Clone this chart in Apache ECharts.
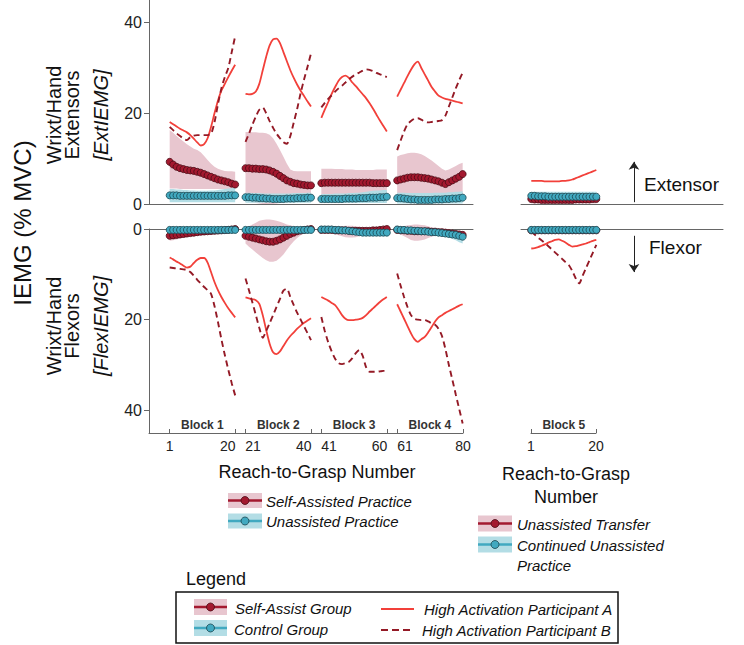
<!DOCTYPE html>
<html>
<head>
<meta charset="utf-8">
<script src="https://cdn.jsdelivr.net/npm/echarts@6/dist/echarts.min.js"></script>
<style>html,body{margin:0;padding:0;background:#fff}#c{width:744px;height:645px}</style>
</head>
<body>
<div id="c"></div>
<script>
// ---------- data ----------
const blockNames = ['Block 1', 'Block 2', 'Block 3', 'Block 4'];
const block5Name = 'Block 5';
const mainTickLabels = ['1', '20', '21', '40', '41', '60', '61', '80'];
const blockEndLabels = ['20', '40', '60'];
const blockStartLabels = ['21', '41', '61'];
const b5TickLabels = ['1', '20'];
const yTicks = [0, 20, 40];

// Extensor (top) – trials 1..80
const extSelfMean = [9.3,8.7,8.2,7.9,7.7,7.5,7.4,7.3,7.1,6.9,6.6,6.3,6.0,5.7,5.4,5.2,5.0,4.8,4.5,4.3,
  7.9,7.9,7.8,7.8,7.7,7.7,7.6,7.4,7.1,6.7,6.2,5.7,5.2,4.9,4.6,4.5,4.3,4.2,4.1,4.1,
  4.6,4.7,4.7,4.7,4.7,4.7,4.7,4.7,4.7,4.7,4.7,4.7,4.7,4.7,4.7,4.6,4.6,4.6,4.6,4.6,
  5.2,5.4,5.6,5.8,5.9,5.9,5.9,5.8,5.7,5.6,5.4,5.2,5.0,4.7,4.4,4.8,5.2,5.6,6.0,6.6];
const extSelfHi = [16.3,15.7,15.0,14.4,13.8,13.2,12.7,12.2,11.9,11.4,10.6,9.7,8.9,8.2,7.8,7.5,7.3,7.2,7.2,7.1,
  15.9,15.9,15.8,15.8,15.7,15.7,15.6,15.3,14.5,13.3,11.9,10.4,8.9,7.6,7.3,7.2,7.2,7.2,7.2,7.2,
  7.8,7.8,7.8,7.8,7.7,7.7,7.7,7.6,7.6,7.6,7.5,7.5,7.5,7.5,7.5,7.5,7.6,7.6,7.6,7.6,
  10.5,10.8,11.0,11.2,11.3,11.3,11.2,11.0,10.6,10.1,9.6,9.0,8.4,7.8,7.4,7.6,8.0,8.4,8.8,9.1];
const extSelfLo = [3.4,3.4,3.4,3.3,3.3,3.3,3.3,3.3,3.3,3.3,3.3,3.3,3.3,3.3,3.3,3.3,3.3,3.3,3.3,3.3,
  0.8,0.6,0.4,0.2,0.1,0,0,0,0,0.1,0.2,0.4,0.5,0.6,0.7,0.7,0.7,0.7,0.7,0.7,
  0.5,0.5,0.5,0.5,0.5,0.5,0.5,0.5,0.5,0.5,0.5,0.5,0.5,0.5,0.5,0.5,0.5,0.5,0.5,0.5,
  1.5,1.5,1.5,1.5,1.5,1.5,1.5,1.5,1.5,1.5,1.5,1.5,1.5,1.5,1.5,1.5,1.5,1.5,1.5,1.5];
const extCtrlMean = [1.9,1.9,1.9,1.8,1.8,1.8,1.8,1.8,1.8,1.8,1.8,1.8,1.8,1.8,1.8,1.8,1.8,1.9,1.9,1.9,
  1.5,1.5,1.4,1.4,1.3,1.3,1.2,1.2,1.1,1.1,1.1,1.1,1.2,1.2,1.2,1.3,1.3,1.3,1.4,1.4,
  1.1,1.1,1.1,1.1,1.1,1.1,1.1,1.2,1.2,1.2,1.2,1.3,1.3,1.3,1.4,1.4,1.4,1.5,1.5,1.6,
  1.3,1.3,1.2,1.1,1.0,1.0,0.9,0.9,0.9,0.9,0.9,1.0,1.0,1.0,1.1,1.1,1.2,1.2,1.3,1.4];
const extCtrlHi = [3.3,3.3,3.2,3.2,3.1,3.1,3.0,3.0,2.9,2.9,2.9,2.9,3.0,3.0,3.1,3.2,3.3,3.4,3.5,3.6,
  2.5,2.5,2.4,2.4,2.4,2.3,2.3,2.3,2.3,2.3,2.3,2.3,2.3,2.3,2.4,2.4,2.4,2.4,2.5,2.5,
  2.2,2.2,2.2,2.2,2.3,2.3,2.3,2.3,2.4,2.4,2.5,2.5,2.6,2.7,2.8,2.9,3.0,3.0,3.1,3.1,
  2.5,2.5,2.5,2.4,2.4,2.4,2.4,2.4,2.4,2.4,2.4,2.5,2.5,2.5,2.5,2.6,2.6,2.7,2.7,2.8];
const extCtrlLo = [0.4,0.4,0.4,0.4,0.4,0.4,0.4,0.4,0.4,0.4,0.4,0.4,0.4,0.4,0.4,0.4,0.4,0.4,0.4,0.4,
  0.3,0.3,0.3,0.3,0.3,0.3,0.3,0.3,0.3,0.3,0.3,0.3,0.3,0.3,0.3,0.3,0.3,0.3,0.3,0.3,
  0.2,0.2,0.2,0.2,0.2,0.2,0.2,0.2,0.2,0.2,0.2,0.2,0.2,0.2,0.2,0.2,0.2,0.2,0.2,0.2,
  0.1,0.1,0.1,0.1,0.1,0.1,0.1,0.1,0.1,0.1,0.1,0.1,0.1,0.1,0.1,0.1,0.1,0.1,0.1,0.1];
const extPartA = [18.1,17.6,17.1,16.6,16.2,15.8,15.2,14.4,13.6,12.9,13.2,14.5,17.0,20.0,22.8,25.0,26.5,28.0,29.4,30.7,
  24.3,24.2,24.3,24.8,26.5,29.5,32.5,35.0,36.3,36.5,35.5,33.5,31.5,29.5,27.8,26.3,25.0,23.8,22.6,21.5,
  19.0,20.8,22.5,24.3,25.8,27.2,28.0,28.3,27.8,26.8,26.0,25.1,24.2,23.3,22.2,21.0,19.7,18.4,17.2,16.0,
  23.7,25.2,26.7,28.2,29.6,30.8,31.4,30.0,28.6,27.2,25.8,24.8,23.9,23.5,23.2,23.0,22.8,22.6,22.4,22.2];
const extPartB = [17.0,16.3,15.6,15.0,14.4,14.1,14.8,15.1,15.2,15.2,15.2,15.2,15.5,18.0,22.0,25.5,28.0,30.0,33.5,37.0,
  13.7,15.5,17.5,19.3,20.8,21.3,20.0,18.3,16.8,15.5,14.5,13.6,13.3,15.0,18.0,21.0,24.5,27.5,30.3,33.2,
  21.3,22.3,23.2,24.0,24.8,25.5,26.1,26.8,27.5,28.1,28.6,29.0,29.4,29.7,29.6,29.3,28.9,28.6,28.3,28.0,
  11.9,14.0,16.0,17.6,18.3,18.8,18.9,18.6,18.2,18.0,18.1,18.2,18.3,18.5,19.5,21.5,23.5,25.5,27.3,29.0];

// Flexor (bottom) – trials 1..80
const flexSelfMean = [1.5,1.4,1.3,1.2,1.1,1.0,0.9,0.8,0.7,0.6,0.55,0.5,0.45,0.4,0.35,0.3,0.25,0.2,0.1,0,
  1.5,1.7,1.9,2.1,2.3,2.5,2.7,2.8,2.8,2.6,2.3,1.9,1.5,1.1,0.8,0.5,0.35,0.2,0.1,0,
  0.2,0.2,0.2,0.2,0.3,0.3,0.3,0.3,0.4,0.4,0.4,0.4,0.4,0.4,0.4,0.3,0.3,0.2,0.1,0,
  0.2,0.3,0.3,0.4,0.4,0.5,0.5,0.5,0.5,0.5,0.6,0.6,0.7,0.7,0.8,0.9,1.0,1.1,1.2,1.3];
const flexSelfHi = [2.6,2.5,2.3,2.1,1.9,1.8,1.6,1.5,1.4,1.3,1.2,1.1,1.0,0.9,0.8,0.7,0.6,0.5,0.4,0.3,
  3.2,3.9,4.5,5.2,5.8,6.4,6.9,7.2,7.2,7.0,6.4,5.6,4.6,3.6,2.7,2.0,1.4,1.0,0.7,0.5,
  0.6,0.7,0.8,1.0,1.2,1.4,1.6,1.8,1.9,1.9,1.8,1.6,1.4,1.2,1.0,0.9,0.8,0.7,0.6,0.5,
  0.8,1.2,1.6,2.0,2.4,2.6,2.6,2.5,2.3,2.0,1.7,1.5,1.4,1.4,1.5,1.6,1.7,1.8,1.9,2.0];
const flexSelfLo = [0.4,0.3,0.3,0.2,0.2,0.2,0.1,0.1,0.1,0,0,0,0,0,0,-0.1,-0.1,-0.1,-0.2,-0.2,
  -0.3,-0.6,-1.0,-1.4,-1.8,-2.0,-2.1,-2.1,-2.0,-1.8,-1.6,-1.3,-1.0,-0.8,-0.6,-0.4,-0.3,-0.2,-0.1,0,
  -0.2,-0.3,-0.3,-0.4,-0.5,-0.6,-0.6,-0.7,-0.7,-0.7,-0.6,-0.5,-0.4,-0.3,-0.3,-0.2,-0.2,-0.2,-0.2,-0.2,
  -0.2,-0.4,-0.6,-0.8,-0.9,-1.0,-1.0,-0.9,-0.8,-0.6,-0.4,-0.3,-0.2,-0.1,0,0.1,0.2,0.3,0.4,0.5];
const flexCtrlMean = [0.2,0.2,0.2,0.2,0.2,0.2,0.2,0.2,0.2,0.2,0.2,0.2,0.2,0.2,0.2,0.2,0.2,0.2,0.2,0.2,
  0.2,0.2,0.2,0.2,0.2,0.2,0.2,0.2,0.2,0.2,0.2,0.2,0.2,0.2,0.2,0.2,0.2,0.2,0.2,0.2,
  0.1,0.1,0.1,0.1,0.2,0.2,0.3,0.3,0.4,0.5,0.6,0.7,0.8,0.8,0.8,0.8,0.8,0.8,0.8,0.8,
  0.1,0.2,0.2,0.3,0.3,0.4,0.4,0.5,0.5,0.6,0.7,0.7,0.8,0.9,1.0,1.1,1.2,1.3,1.5,1.7];
const flexCtrlHi = [0.6,0.6,0.6,0.6,0.6,0.6,0.6,0.6,0.6,0.6,0.6,0.6,0.6,0.6,0.6,0.6,0.6,0.6,0.6,0.6,
  0.6,0.6,0.6,0.6,0.6,0.6,0.6,0.6,0.6,0.6,0.6,0.6,0.6,0.6,0.6,0.6,0.6,0.6,0.6,0.6,
  0.5,0.5,0.5,0.5,0.6,0.6,0.7,0.7,0.8,0.9,1.0,1.1,1.2,1.2,1.2,1.2,1.2,1.3,1.3,1.3,
  0.5,0.6,0.6,0.7,0.7,0.8,0.8,0.9,0.9,1.0,1.1,1.2,1.3,1.4,1.6,1.9,2.2,2.5,2.9,3.2];
const flexCtrlLo = [-0.2,-0.2,-0.2,-0.2,-0.2,-0.2,-0.2,-0.2,-0.2,-0.2,-0.2,-0.2,-0.2,-0.2,-0.2,-0.2,-0.2,-0.2,-0.2,-0.2,
  -0.2,-0.2,-0.2,-0.2,-0.2,-0.2,-0.2,-0.2,-0.2,-0.2,-0.2,-0.2,-0.2,-0.2,-0.2,-0.2,-0.2,-0.2,-0.2,-0.2,
  -0.2,-0.2,-0.2,-0.2,-0.2,-0.2,-0.1,-0.1,0,0.1,0.2,0.3,0.3,0.3,0.3,0.3,0.3,0.3,0.3,0.3,
  -0.2,-0.2,-0.2,-0.1,-0.1,0,0,0.1,0.1,0.2,0.3,0.3,0.3,0.4,0.4,0.4,0.4,0.5,0.5,0.5];
const flexPartA = [6.3,6.7,7.2,7.6,8.1,8.5,8.3,7.5,6.8,6.4,6.4,7.4,9.5,11.7,13.5,15.0,16.3,17.5,18.5,19.5,
  15.1,15.3,15.5,15.7,16.5,19.0,22.3,25.3,27.2,27.6,27.0,25.8,24.6,23.6,22.8,22.0,21.3,20.7,20.2,19.7,
  15.0,15.4,15.8,16.3,16.8,17.8,19.0,19.8,20.1,20.1,20.0,19.9,19.6,19.0,18.2,17.5,16.8,16.1,15.5,15.0,
  16.6,18.2,19.8,21.4,23.0,24.3,24.9,24.3,23.8,22.8,21.6,20.4,19.5,19.0,18.5,18.1,17.7,17.3,16.9,16.6];
const flexPartB = [8.5,8.6,8.7,8.8,8.9,9.0,9.5,10.3,11.2,12.0,12.8,13.5,14.3,17.0,20.5,24.3,27.8,31.0,34.0,36.7,
  10.9,13.5,16.2,19.0,21.8,24.0,22.5,20.8,19.0,17.2,15.4,13.6,13.2,15.0,16.8,18.5,20.0,21.5,23.0,24.5,
  19.4,22.5,25.0,27.0,28.6,29.6,29.8,29.6,29.3,28.5,27.4,26.7,28.0,30.5,31.5,31.5,31.5,31.4,31.3,31.3,
  9.8,12.5,15.0,17.2,19.0,19.8,20.0,20.1,20.1,20.4,20.8,21.1,22.0,23.6,26.5,30.0,33.2,36.5,39.7,42.9];

// Block 5 – trials 1..20
const b5ExtSelfMean = [1.1,1.0,1.0,0.9,0.9,0.9,0.9,0.9,0.9,0.9,0.9,0.9,0.9,1.0,1.0,1.0,1.0,1.0,1.1,1.1];
const b5ExtSelfHi = [2.0,2.0,2.0,2.0,2.0,2.0,2.0,2.0,2.0,2.0,2.0,2.0,2.0,2.0,2.0,2.0,2.0,2.0,2.0,2.0];
const b5ExtSelfLo = [0.1,0.1,0.1,0.1,0.1,0.1,0.1,0.1,0.1,0.1,0.1,0.1,0.1,0.1,0.1,0.1,0.1,0.1,0.1,0.1];
const b5ExtCtrlMean = [1.8,1.8,1.7,1.7,1.7,1.6,1.6,1.6,1.6,1.6,1.6,1.6,1.6,1.6,1.6,1.6,1.6,1.6,1.6,1.6];
const b5ExtCtrlHi = [2.7,2.7,2.7,2.7,2.7,2.7,2.7,2.7,2.7,2.7,2.7,2.7,2.7,2.7,2.7,2.7,2.7,2.7,2.7,2.7];
const b5ExtCtrlLo = [0.6,0.6,0.6,0.6,0.6,0.6,0.6,0.6,0.6,0.6,0.6,0.6,0.6,0.6,0.6,0.6,0.6,0.6,0.6,0.6];
const b5ExtPartA = [5.1,5.1,5.1,5.1,5.0,5.0,5.0,5.0,5.0,5.1,5.1,5.2,5.4,5.7,6.0,6.3,6.6,6.9,7.2,7.5];
const b5ExtPartB = [1.4,1.3,1.3,1.2,1.2,1.2,1.2,1.2,1.2,1.3,1.3,1.3,1.4,1.4,1.5,1.5,1.6,1.6,1.7,1.8];
const b5FlexSelfMean = [0.3,0.3,0.3,0.3,0.3,0.3,0.3,0.3,0.3,0.3,0.3,0.3,0.3,0.3,0.3,0.3,0.3,0.3,0.3,0.3];
const b5FlexSelfHi = [0.8,0.8,0.8,0.8,0.8,0.8,0.8,0.8,0.8,0.8,0.8,0.8,0.8,0.8,0.8,0.8,0.8,0.8,0.8,0.8];
const b5FlexSelfLo = [-0.1,-0.1,-0.1,-0.1,-0.1,-0.1,-0.1,-0.1,-0.1,-0.1,-0.1,-0.1,-0.1,-0.1,-0.1,-0.1,-0.1,-0.1,-0.1,-0.1];
const b5FlexCtrlMean = [0.2,0.2,0.2,0.2,0.2,0.2,0.2,0.2,0.2,0.2,0.2,0.2,0.2,0.2,0.2,0.2,0.2,0.2,0.2,0.2];
const b5FlexCtrlHi = [0.6,0.6,0.6,0.6,0.6,0.6,0.6,0.6,0.6,0.6,0.6,0.6,0.6,0.6,0.6,0.6,0.6,0.6,0.6,0.6];
const b5FlexCtrlLo = [-0.1,-0.1,-0.1,-0.1,-0.1,-0.1,-0.1,-0.1,-0.1,-0.1,-0.1,-0.1,-0.1,-0.1,-0.1,-0.1,-0.1,-0.1,-0.1,-0.1];
const b5FlexPartA = [4.3,4.2,4.0,3.7,3.4,3.0,2.7,2.4,2.3,2.6,3.0,3.5,3.9,3.8,3.6,3.4,3.2,2.9,2.6,2.4];
const b5FlexPartB = [0.6,1.2,1.9,2.5,3.1,3.8,4.5,5.2,5.9,6.6,7.3,8.0,9.3,10.9,12.0,10.3,8.6,6.9,5.2,3.5];

// ---------- styling ----------
const FONT = '"Liberation Sans", Arial, Helvetica, sans-serif';
const RED = '#a3192f', RED_EDGE = '#4a0b15', RED_BAND = '#e8c6cf';
const TEAL = '#41a9c0', TEAL_EDGE = '#1b4651', TEAL_BAND = '#b3dde5';
const PART_A = '#f2403a', PART_B = '#941a26';
const AXIS = '#666';

// main category slots: 6 leading blanks, 2 blanks between blocks, 3 trailing blanks
const LEAD = 6, GAP = 2, TAIL = 3;
const cats = [];
for (let i = 0; i < LEAD; i++) cats.push('');
for (let b = 0; b < 4; b++) {
  for (let t = 1; t <= 20; t++) cats.push(String(b * 20 + t));
  if (b < 3) for (let i = 0; i < GAP; i++) cats.push('');
}
const axisCats = cats.slice();           // ends at trial 80
for (let i = 0; i < TAIL; i++) cats.push('');
const slotStart = b => LEAD + b * (20 + GAP);
function slot(arr) {
  const out = new Array(cats.length).fill(null);
  arr.forEach((v, i) => { out[slotStart(Math.floor(i / 20)) + (i % 20)] = v; });
  return out;
}
// block 5 category slots: 3 leading blanks, 20 trials, 37 trailing blanks
const B5LEAD = 3, B5TAIL = 37;
const b5Cats = Array.from({length: 20}, (_, i) => String(i + 1));
const b5AllCats = [];
for (let i = 0; i < B5LEAD; i++) b5AllCats.push('');
b5Cats.forEach(c => b5AllCats.push(c));
for (let i = 0; i < B5TAIL; i++) b5AllCats.push('');
function slot5(arr) {
  const out = new Array(b5AllCats.length).fill(null);
  arr.forEach((v, i) => { out[B5LEAD + i] = v; });
  return out;
}

function groupSeries(opt) {
  const f = opt.main ? slot : slot5;
  const diff = (h, l) => h.map((v, i) => +(v - l[i]).toFixed(2));
  const base = {type: 'line', xAxisIndex: opt.x, yAxisIndex: opt.y, connectNulls: false, silent: true};
  const band = (name, lo, hi, col) => [
    Object.assign({}, base, {stack: name, stackStrategy: 'all', data: f(lo), symbol: 'none',
      lineStyle: {opacity: 0}, clip: opt.clip}),
    Object.assign({}, base, {stack: name, stackStrategy: 'all', data: f(diff(hi, lo)), symbol: 'none',
      lineStyle: {opacity: 0}, areaStyle: {color: col, opacity: 1}, clip: opt.clip})
  ];
  const out = [];
  out.push(...band(opt.key + 'rb', opt.selfL, opt.selfH, RED_BAND));
  out.push(...band(opt.key + 'tb', opt.ctrlL, opt.ctrlH, TEAL_BAND));
  out.push(Object.assign({}, base, {data: f(opt.pa), symbol: 'none', smooth: 0.25,
    lineStyle: {color: PART_A, width: 1.8}}));
  out.push(Object.assign({}, base, {data: f(opt.pb), symbol: 'none', smooth: 0.25,
    lineStyle: {color: PART_B, width: 1.9, type: [6, 4]}}));
  out.push(Object.assign({}, base, {data: f(opt.selfM), symbol: 'circle', symbolSize: 7, showAllSymbol: true,
    lineStyle: {color: RED, width: 1.5}, itemStyle: {color: RED, borderColor: RED_EDGE, borderWidth: 0.8}}));
  out.push(Object.assign({}, base, {data: f(opt.ctrlM), symbol: 'circle', symbolSize: 7, showAllSymbol: true,
    lineStyle: {color: TEAL, width: 1.5}, itemStyle: {color: TEAL, borderColor: TEAL_EDGE, borderWidth: 0.8}}));
  return out;
}

const series = [];
series.push(...groupSeries({x: 0, y: 0, main: true, key: 'me', clip: true,
  selfM: extSelfMean, selfH: extSelfHi, selfL: extSelfLo, ctrlM: extCtrlMean, ctrlH: extCtrlHi, ctrlL: extCtrlLo,
  pa: extPartA, pb: extPartB}));
series.push(...groupSeries({x: 1, y: 1, main: true, key: 'mf', clip: false,
  selfM: flexSelfMean, selfH: flexSelfHi, selfL: flexSelfLo, ctrlM: flexCtrlMean, ctrlH: flexCtrlHi, ctrlL: flexCtrlLo,
  pa: flexPartA, pb: flexPartB}));
series.push(...groupSeries({x: 2, y: 2, main: false, key: 'be', clip: true,
  selfM: b5ExtSelfMean, selfH: b5ExtSelfHi, selfL: b5ExtSelfLo, ctrlM: b5ExtCtrlMean, ctrlH: b5ExtCtrlHi, ctrlL: b5ExtCtrlLo,
  pa: b5ExtPartA, pb: b5ExtPartB}));
series.push(...groupSeries({x: 3, y: 3, main: false, key: 'bf', clip: false,
  selfM: b5FlexSelfMean, selfH: b5FlexSelfHi, selfL: b5FlexSelfLo, ctrlM: b5FlexCtrlMean, ctrlH: b5FlexCtrlHi, ctrlL: b5FlexCtrlLo,
  pa: b5FlexPartA, pb: b5FlexPartB}));

// block labels (markArea) and arrows (markLine)
const blockLabel = {show: true, position: 'inside', color: '#333', fontWeight: 'bold', fontSize: 12, fontFamily: FONT};
series[15].markArea = {silent: true, itemStyle: {color: 'rgba(0,0,0,0)'}, label: blockLabel,
  data: blockNames.map((n, b) => [{name: n, coord: [slotStart(b), 41.6]}, {coord: [slotStart(b) + 19, 45]}])};
series[31].markArea = {silent: true, itemStyle: {color: 'rgba(0,0,0,0)'}, label: blockLabel,
  data: [[{name: block5Name, coord: [B5LEAD, 41.6]}, {coord: [B5LEAD + 19, 45]}]]};
const ARROW_SLOT = 33;
const arrowML = (a, b) => ({silent: true, symbol: ['none', 'arrow'], symbolSize: 8, label: {show: false},
  lineStyle: {color: '#222', width: 1, type: 'solid'}, data: [[{coord: [ARROW_SLOT, a]}, {coord: [ARROW_SLOT, b]}]]});
series[20].markLine = arrowML(0.4, 9.3);
series[28].markLine = arrowML(1.5, 9.5);

const hiddenAxisParts = {axisTick: {show: false}, axisLabel: {show: false}, splitLine: {show: false}};
const lineStyleAxis = {show: true, onZero: false, lineStyle: {color: AXIS, width: 1}};
const catTickFn = (labels) => (i, v) => labels.includes(v);
const tickFmt = v => blockEndLabels.includes(v) ? '{r|' + v + '}' : (blockStartLabels.includes(v) ? '{l|' + v + '}' : v);
const tickRich = {
  r: {fontSize: 14, color: '#222', padding: [0, 15, 0, 0]},
  l: {fontSize: 14, color: '#222', padding: [0, 0, 0, 15]}
};

const option = {
  animation: false,
  textStyle: {fontFamily: FONT},
  grid: [
    {left: 149, top: 0, width: 324, height: 204},
    {left: 149, top: 229, width: 324, height: 204},
    {left: 521, top: 0, width: 202, height: 204},
    {left: 521, top: 229, width: 202, height: 204},
    {left: 149, top: 229, width: 314, height: 204},
    {left: 531, top: 229, width: 65, height: 204}
  ],
  xAxis: [
    Object.assign({gridIndex: 0, type: 'category', data: cats, boundaryGap: false, axisLine: lineStyleAxis}, hiddenAxisParts),
    Object.assign({gridIndex: 1, type: 'category', data: cats, boundaryGap: false, position: 'top', axisLine: lineStyleAxis}, hiddenAxisParts),
    Object.assign({gridIndex: 2, type: 'category', data: b5AllCats, boundaryGap: false, axisLine: lineStyleAxis}, hiddenAxisParts),
    Object.assign({gridIndex: 3, type: 'category', data: b5AllCats, boundaryGap: false, position: 'top', axisLine: lineStyleAxis}, hiddenAxisParts),
    {gridIndex: 4, type: 'category', data: axisCats, boundaryGap: false, position: 'bottom', axisLine: lineStyleAxis,
      axisTick: {show: true, inside: true, length: 4, interval: catTickFn(mainTickLabels), lineStyle: {color: AXIS}},
      axisLabel: {show: true, interval: catTickFn(mainTickLabels), color: '#222', fontSize: 14, margin: 6,
        formatter: tickFmt, rich: tickRich},
      splitLine: {show: false},
      name: 'Reach-to-Grasp Number', nameLocation: 'middle', nameGap: 30,
      nameTextStyle: {fontSize: 18, color: '#111', padding: [0, 0, 0, 22]}},
    {gridIndex: 5, type: 'category', data: b5Cats, boundaryGap: false, position: 'bottom', axisLine: lineStyleAxis,
      axisTick: {show: true, inside: true, length: 4, interval: catTickFn(b5TickLabels), lineStyle: {color: AXIS}},
      axisLabel: {show: true, interval: catTickFn(b5TickLabels), color: '#222', fontSize: 14, margin: 6},
      splitLine: {show: false},
      name: 'Reach-to-Grasp\nNumber', nameLocation: 'middle', nameGap: 29,
      nameTextStyle: {fontSize: 18, color: '#111', lineHeight: 23, padding: [0, 0, 0, 5]}}
  ],
  yAxis: [
    {gridIndex: 0, type: 'value', min: 0, max: 45, axisLine: {show: true, lineStyle: {color: AXIS}},
      axisTick: {show: true, length: 5, customValues: yTicks, lineStyle: {color: AXIS}},
      axisLabel: {show: true, customValues: yTicks, color: '#222', fontSize: 16, margin: 7}, splitLine: {show: false}},
    {gridIndex: 1, type: 'value', min: 0, max: 45, inverse: true, axisLine: {show: true, lineStyle: {color: AXIS}},
      axisTick: {show: true, length: 5, customValues: yTicks, lineStyle: {color: AXIS}},
      axisLabel: {show: true, customValues: yTicks, color: '#222', fontSize: 16, margin: 7}, splitLine: {show: false}},
    {gridIndex: 2, type: 'value', min: 0, max: 45, show: false},
    {gridIndex: 3, type: 'value', min: 0, max: 45, inverse: true, show: false},
    {gridIndex: 4, type: 'value', min: 0, max: 45, inverse: true, show: false},
    {gridIndex: 5, type: 'value', min: 0, max: 45, inverse: true, show: false}
  ],
  series: series,
  graphic: []
};

// ---------- annotation texts and legends ----------
const G = option.graphic;
function txt(x, y, text, size, extra) {
  G.push(Object.assign({type: 'text', x: x, y: y, silent: true,
    style: Object.assign({text: text, fontSize: size, fontFamily: FONT, fill: '#111',
      align: 'left', verticalAlign: 'middle', textAlign: 'left', textVerticalAlign: 'middle'}, (extra && extra.style) || {})},
    (extra && extra.el) || {}));
}
const rot = {el: {rotation: Math.PI / 2}, style: {align: 'center', textAlign: 'center'}};
const rotIt = {el: {rotation: Math.PI / 2}, style: {align: 'center', textAlign: 'center', fontStyle: 'italic'}};
txt(22, 223, 'IEMG (% MVC)', 24, rot);
txt(54, 115, 'Wrixt/Hand', 20, rot);
txt(72, 115, 'Extensors', 20, rot);
txt(101, 115, '[ExtIEMG]', 20, rotIt);
txt(54, 326, 'Wrixt/Hand', 20, rot);
txt(72, 326, 'Flexors', 20, rot);
txt(101, 326, '[FlexIEMG]', 20, rotIt);
txt(644, 184, 'Extensor', 19);
txt(649, 247, 'Flexor', 19);

function groupIcon(x, cy, w, h, band, line, fill, edge) {
  G.push({type: 'rect', silent: true, shape: {x: x, y: cy - h / 2, width: w, height: h}, style: {fill: band}});
  G.push({type: 'line', silent: true, shape: {x1: x, y1: cy, x2: x + w, y2: cy}, style: {stroke: line, lineWidth: 2.5}});
  G.push({type: 'circle', silent: true, shape: {cx: x + w / 2, cy: cy, r: 4}, style: {fill: fill, stroke: edge, lineWidth: 0.8}});
}
const ital = {style: {fontStyle: 'italic'}};
// legend under main axis
groupIcon(228, 500.5, 34, 15, RED_BAND, RED, RED, RED_EDGE);
txt(266, 501, 'Self-Assisted Practice', 15, ital);
groupIcon(228, 521, 34, 15, TEAL_BAND, TEAL, TEAL, TEAL_EDGE);
txt(266, 521.5, 'Unassisted Practice', 15, ital);
// legend under block 5
groupIcon(478, 523.5, 34, 16, RED_BAND, RED, RED, RED_EDGE);
txt(517, 524, 'Unassisted Transfer', 15, ital);
groupIcon(478, 544.5, 34, 16, TEAL_BAND, TEAL, TEAL, TEAL_EDGE);
txt(517, 545, 'Continued Unassisted', 15, ital);
txt(517, 565, 'Practice', 15, ital);
// boxed legend
txt(186, 579, 'Legend', 18);
G.push({type: 'rect', silent: true, shape: {x: 176, y: 592, width: 442, height: 51}, style: {fill: 'none', stroke: '#111', lineWidth: 1.5}});
groupIcon(194, 607, 33, 16, RED_BAND, RED, RED, RED_EDGE);
txt(235, 608, 'Self-Assist Group', 15, ital);
groupIcon(194, 628, 33, 16, TEAL_BAND, TEAL, TEAL, TEAL_EDGE);
txt(234, 629, 'Control Group', 15, ital);
G.push({type: 'line', silent: true, shape: {x1: 381, y1: 609, x2: 414, y2: 609}, style: {stroke: PART_A, lineWidth: 2}});
txt(424, 609, 'High Activation Participant A', 15, ital);
G.push({type: 'line', silent: true, shape: {x1: 381, y1: 630, x2: 414, y2: 630}, style: {stroke: PART_B, lineWidth: 2, lineDash: [7, 4]}});
txt(422, 630, 'High Activation Participant B', 15, ital);

const chart = echarts.init(document.getElementById('c'), null, {renderer: 'svg', width: 744, height: 645});
chart.setOption(option);
</script>
</body>
</html>
